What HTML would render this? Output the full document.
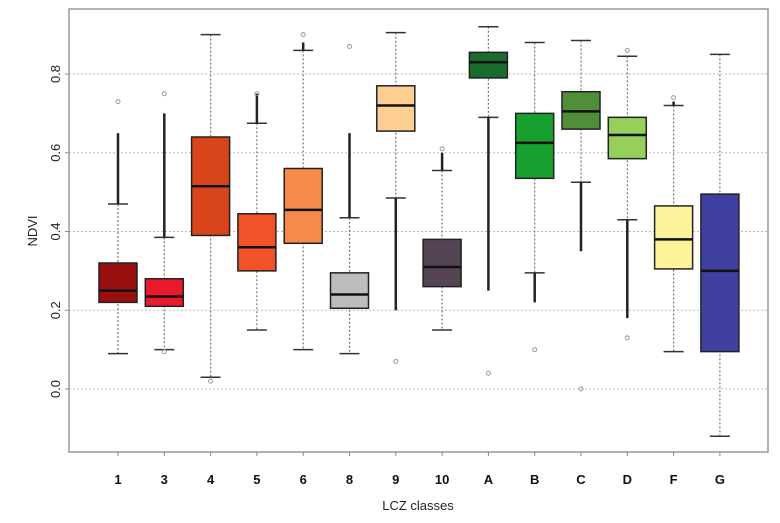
<!DOCTYPE html>
<html><head><meta charset="utf-8"><style>
body{margin:0;background:#fff;width:780px;height:518px;overflow:hidden}
svg{font-family:"Liberation Sans",sans-serif}
</style></head><body>
<svg id="chart" width="780" height="518" viewBox="0 0 780 518" xmlns="http://www.w3.org/2000/svg"></svg>
<script>
const categories=["1","3","4","5","6","8","9","10","A","B","C","D","F","G"];
const whiskerLow=[0.09,0.10,0.03,0.15,0.10,0.09,0.485,0.15,0.69,0.295,0.525,0.43,0.095,-0.12];
const q1Values=[0.22,0.21,0.39,0.30,0.37,0.205,0.655,0.26,0.79,0.535,0.66,0.585,0.305,0.095];
const medianValues=[0.25,0.235,0.515,0.36,0.455,0.24,0.72,0.31,0.83,0.625,0.705,0.645,0.38,0.30];
const q3Values=[0.32,0.28,0.64,0.445,0.56,0.295,0.77,0.38,0.855,0.70,0.755,0.69,0.465,0.495];
const whiskerHigh=[0.47,0.385,0.90,0.675,0.86,0.435,0.905,0.555,0.92,0.88,0.885,0.845,0.72,0.85];
const outlierHigh=[0.73,0.75,null,0.75,0.90,0.87,null,0.61,null,null,null,0.86,0.74,null];
const outlierLow=[null,0.095,0.02,null,null,null,0.07,null,0.04,0.10,0.00,0.13,null,null];
const denseHigh=[0.65,0.70,null,0.75,0.88,0.65,null,0.60,null,null,null,null,0.73,null];
const denseLow=[null,null,null,null,null,null,0.20,null,0.25,0.22,0.35,0.18,null,null];
const colors=["#9a1010","#e8192c","#d9451a","#f2522a","#f7894a","#bdbdbd","#fdcf93","#544454","#1a6b2e","#17a02f","#4f8f3a","#96cf59","#fdf39a","#4040a0"];
const yTicks=[0.0,0.2,0.4,0.6,0.8];
const yTickLabels=["0.0","0.2","0.4","0.6","0.8"];

const svg=document.getElementById('chart');
const NS="http://www.w3.org/2000/svg";
const L=69,R=768,T=9,B=452;
const y=v=>389-v*393.75;
const x=i=>118+i*46.3;
function mk(tag,attrs,parent){const e=document.createElementNS(NS,tag);for(const k in attrs)e.setAttribute(k,attrs[k]);(parent||svg).appendChild(e);return e;}

// grid
yTicks.forEach((t,i)=>{
  const g=mk('line',{x1:L,x2:R,y1:y(t),y2:y(t),stroke:'#bbb','stroke-dasharray':'2,2','stroke-width':1});
  
  
  const tk=mk('line',{x1:L-4,x2:L,y1:y(t),y2:y(t),stroke:'#888'});
  
  
  const tx=mk('text',{x:0,y:0,transform:`translate(60,${y(t)}) rotate(-90)`,'text-anchor':'middle','font-size':13,fill:'#222'});
  tx.textContent=yTickLabels[i];
  
  
});
const frame=mk('rect',{x:L,y:T,width:R-L,height:B-T,fill:'none',stroke:'#999','stroke-width':1.5});



categories.forEach((c,i)=>{
  const cx=x(i),hw=19;
  const g=mk('g',{});
  
  
  mk('line',{x1:cx,x2:cx,y1:y(whiskerHigh[i]),y2:y(whiskerLow[i]),stroke:'#777','stroke-dasharray':'2,2','stroke-width':1.2},g);
  mk('line',{x1:cx-10,x2:cx+10,y1:y(whiskerHigh[i]),y2:y(whiskerHigh[i]),stroke:'#333','stroke-width':1.5},g);
  mk('line',{x1:cx-10,x2:cx+10,y1:y(whiskerLow[i]),y2:y(whiskerLow[i]),stroke:'#333','stroke-width':1.5},g);
  if(denseHigh[i]!=null) mk('line',{x1:cx,x2:cx,y1:y(whiskerHigh[i]),y2:y(denseHigh[i]),stroke:'#222','stroke-width':2.5},g);
  if(denseLow[i]!=null) mk('line',{x1:cx,x2:cx,y1:y(whiskerLow[i]),y2:y(denseLow[i]),stroke:'#222','stroke-width':2.5},g);
  if(outlierHigh[i]!=null) mk('circle',{cx:cx,cy:y(outlierHigh[i]),r:2,fill:'none',stroke:'#999'},g);
  if(outlierLow[i]!=null) mk('circle',{cx:cx,cy:y(outlierLow[i]),r:2,fill:'none',stroke:'#999'},g);
  mk('rect',{x:cx-hw,y:y(q3Values[i]),width:2*hw,height:y(q1Values[i])-y(q3Values[i]),fill:colors[i],stroke:'#222','stroke-width':1.5},g);
  mk('line',{x1:cx-hw,x2:cx+hw,y1:y(medianValues[i]),y2:y(medianValues[i]),stroke:'#111','stroke-width':2.5},g);
  const tk=mk('line',{x1:cx,x2:cx,y1:B,y2:B+4,stroke:'#888'});
  
  
  const lb=mk('text',{x:cx,y:484,'text-anchor':'middle','font-size':13,'font-weight':'bold',fill:'#111'});
  lb.textContent=c;
  
  
});
const xt=mk('text',{x:418,y:510,'text-anchor':'middle','font-size':13,fill:'#222'});
xt.textContent='LCZ classes';


const yt=mk('text',{x:0,y:0,transform:'translate(37,231) rotate(-90)','text-anchor':'middle','font-size':13,fill:'#222'});
yt.textContent='NDVI';


</script>
</body></html>
